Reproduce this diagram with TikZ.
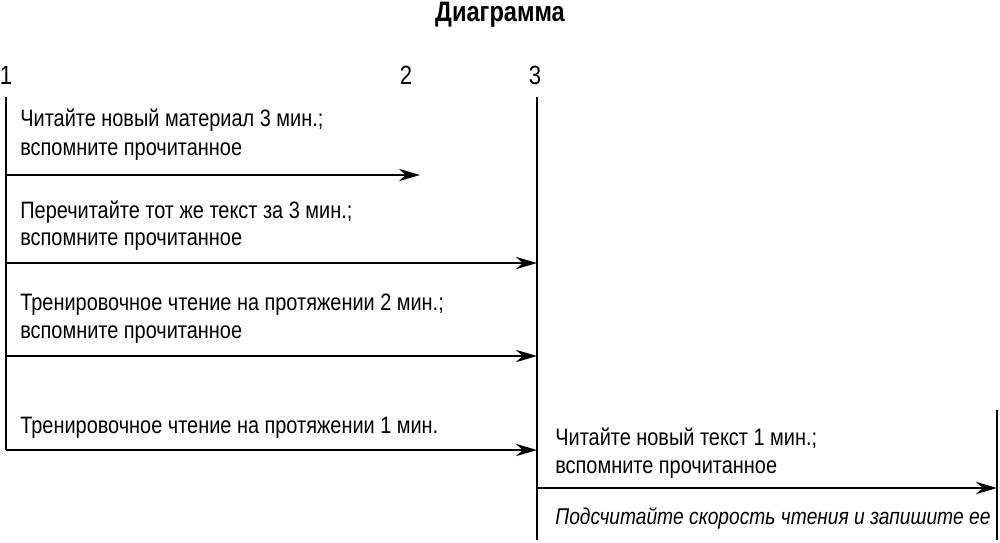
\documentclass[tikz,border=0pt]{standalone}
\usepackage{fontspec}
\setmainfont{Liberation Sans}[FakeStretch=0.84]
\usetikzlibrary{arrows.meta}
\begin{document}
\begin{tikzpicture}[x=0.02cm,y=-0.02cm,
  txt/.style={anchor=west,inner sep=0pt,font=\fontsize{13.5}{16}\selectfont},
  num/.style={inner sep=0pt,font=\fontsize{15}{18}\selectfont},
  ln/.style={line width=1.1pt},
  arr/.style={ln,-{Stealth[length=12pt,width=7pt]}}]
\useasboundingbox (0,0) rectangle (1000,542);
\node[inner sep=0pt,font=\bfseries\fontsize{16}{19}\selectfont] (title) at (500,15) {Диаграмма};
\node[num] (n1) at (6,75) {1};
\node[num] (n2) at (406,75) {2};
\node[num] (n3) at (535,75) {3};
\coordinate (l0) at (6,97); \coordinate (l1) at (6,450);
\coordinate (m0) at (537,97); \coordinate (m1) at (537,540);
\coordinate (r0) at (997,410); \coordinate (r1) at (997,540);
\draw[ln] (l0) -- (l1);
\draw[ln] (m0) -- (m1);
\draw[ln] (r0) -- (r1);
\coordinate (a1) at (6,175); \coordinate (b1) at (420,175);
\coordinate (a2) at (6,263); \coordinate (b2) at (537,263);
\coordinate (a3) at (6,356); \coordinate (b3) at (537,356);
\coordinate (a4) at (6,450); \coordinate (b4) at (537,450);
\coordinate (a5) at (537,488); \coordinate (b5) at (997,488);
\draw[arr] (a1) -- (b1);
\draw[arr] (a2) -- (b2);
\draw[arr] (a3) -- (b3);
\draw[arr] (a4) -- (b4);
\draw[arr] (a5) -- (b5);
\node[txt] (t1) at (20,120) {Читайте новый материал 3 мин.;};
\node[txt] (t2) at (20,152) {вспомните прочитанное};
\node[txt] (t3) at (20,212) {Перечитайте тот же текст за 3 мин.;};
\node[txt] (t4) at (20,242) {вспомните прочитанное};
\node[txt] (t5) at (20,305) {Тренировочное чтение на протяжении 2 мин.;};
\node[txt] (t6) at (20,335) {вспомните прочитанное};
\node[txt] (t7) at (20,428) {Тренировочное чтение на протяжении 1 мин.};
\node[txt] (t8) at (555,438) {Читайте новый текст 1 мин.;};
\node[txt] (t9) at (555,470) {вспомните прочитанное};
\node[txt,font=\itshape\fontsize{13}{16}\selectfont] (t10) at (555,518) {Подсчитайте скорость чтения и запишите ее};
\end{tikzpicture}
\end{document}
